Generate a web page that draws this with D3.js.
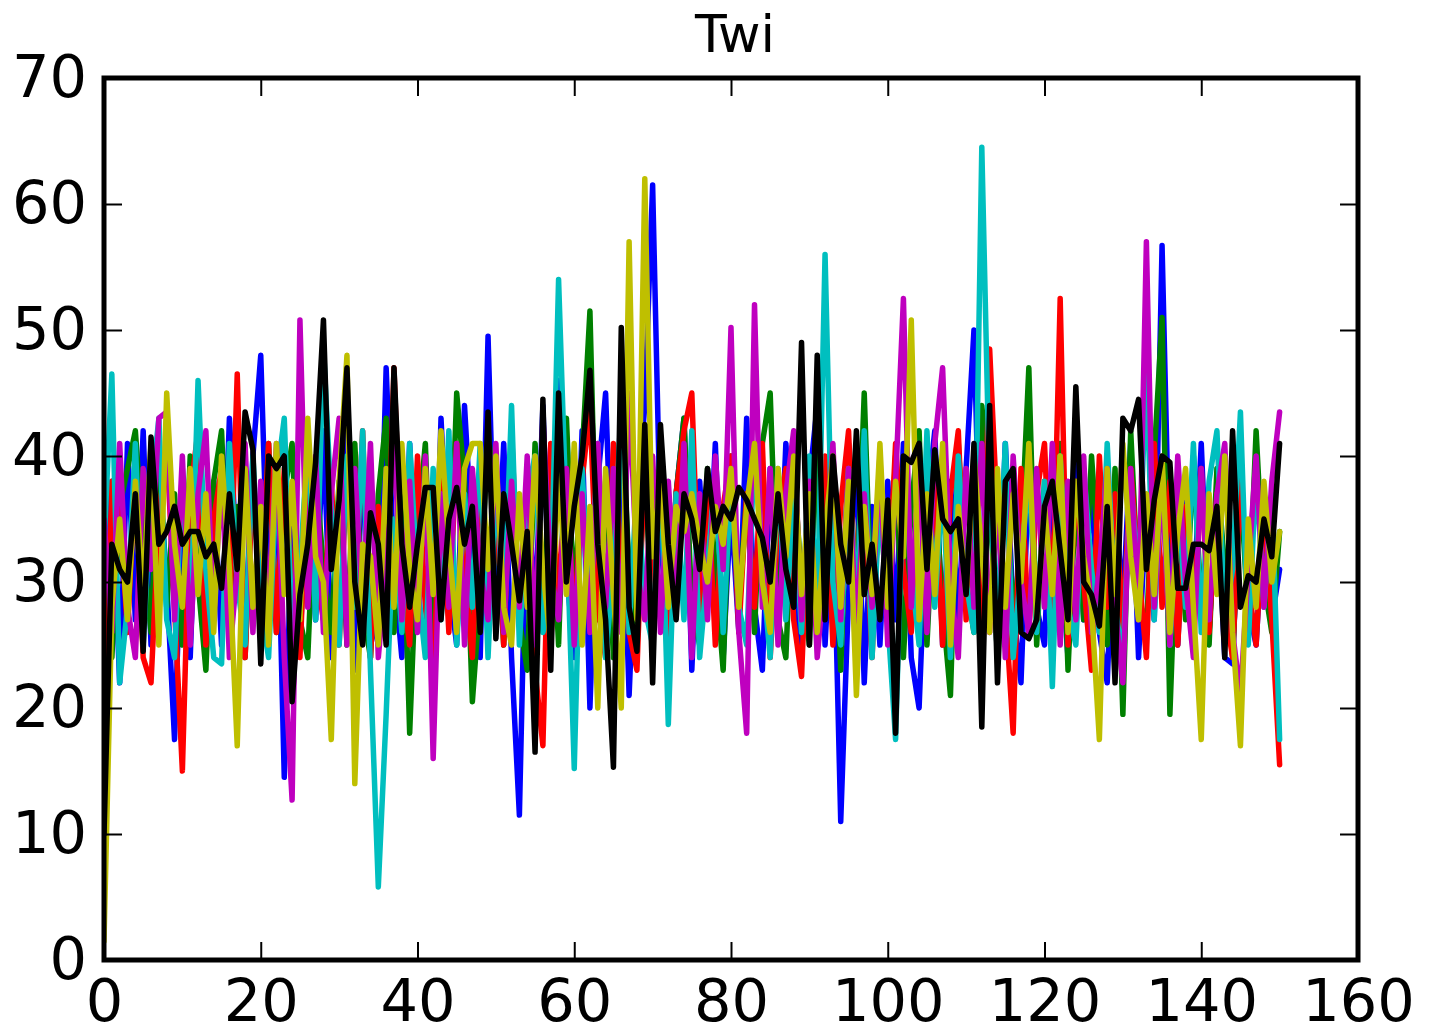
<!DOCTYPE html>
<html>
<head>
<meta charset="utf-8">
<script src="https://cdn.jsdelivr.net/npm/d3@7"></script>
<style>
  body { margin: 0; background: #fff; }
  svg text { font-family: "DejaVu Sans", sans-serif; fill: #000; }
</style>
</head>
<body>
<svg width="1429" height="1034"></svg>
<script>
const title = 'Twi';
const xTicks = [0, 20, 40, 60, 80, 100, 120, 140, 160];
const yTicks = [0, 10, 20, 30, 40, 50, 60, 70];

// one value per step, x = 0..150
const blue = [
  29, 38, 22, 41, 27, 42, 25, 39, 30, 17.5,
  36, 24, 41, 28, 38, 25, 43, 31, 26, 40,
  48, 28, 40, 14.5, 35, 25, 39, 27, 42, 24,
  37, 43, 23, 40, 28, 25, 47, 31, 24, 41,
  27, 39, 22, 43, 30, 25, 44, 33, 24, 49.5,
  28, 41, 24, 11.5, 39, 27, 44, 25, 46, 31,
  24, 42, 20, 38, 45, 27, 40, 21, 36, 44,
  61.5, 34, 25, 37, 43, 23, 38, 28, 41, 24,
  36, 26, 43, 28, 23, 39, 26, 41, 31, 24,
  38, 44, 25, 37, 11, 29, 40, 22, 36, 25,
  38, 27, 41, 24, 20, 36, 42, 25, 38, 27,
  39, 50, 26, 38, 24, 41, 28, 22, 39, 28,
  25, 40, 33, 24, 43, 27, 38, 26, 22, 37,
  28, 41, 24, 36, 27, 56.7, 30, 25, 38, 28,
  41, 26, 37, 24, 23.5, 39, 28, 25, 36, 27,
  31
];
const green = [
  30, 24, 36, 39, 42, 33, 26, 41, 28, 37,
  25, 40, 30, 23, 38, 42, 27, 36, 24, 39,
  28, 41, 26, 37, 41, 27, 24, 39, 31, 26,
  38, 25, 41, 28, 24, 37, 43, 26, 39, 18,
  34, 41, 24, 38, 27, 45, 38, 20.5, 29, 42,
  36, 25, 40, 27, 23, 41, 29, 38, 25, 43,
  28, 40, 51.5, 27, 38, 24, 44, 31, 26, 39,
  27, 41, 24, 37, 43, 28, 25, 39, 31, 23,
  40, 28, 37, 26, 41, 45, 27, 24, 39, 30,
  25, 42, 29, 38, 23, 41, 28, 45, 26, 37,
  27, 40, 24, 36, 42, 25, 38, 28, 21, 41,
  30, 26, 44, 37, 24, 39, 27, 33, 47, 25,
  38, 28, 41, 23, 37, 27, 40, 31, 25, 39,
  19.5, 42, 29, 26, 40, 51, 19.5, 37, 27, 40,
  28, 25, 39, 31, 24, 38, 27, 42, 30, 26,
  34
];
const red = [
  14, 38, 36, 26, 39, 24, 22, 35, 41, 28,
  15, 37, 42, 25, 35, 39, 27, 46.5, 24, 38,
  28, 41, 26, 39, 30, 24, 40, 31, 27, 38,
  25, 39, 28, 42, 24, 36, 27, 47, 30, 25,
  40, 28, 22, 38, 26, 41, 31, 24, 39, 28,
  37, 25, 42, 27, 38, 23, 17, 41, 28, 39,
  26, 38, 44, 28, 24, 41, 31, 26, 23, 40,
  28, 39, 25, 37, 42, 45, 27, 38, 25, 36,
  40, 26, 37, 28, 41, 24, 35, 39, 27, 22.5,
  38, 28, 40, 25, 36, 42, 27, 37, 24, 39,
  28, 41, 31, 26, 40, 27, 38, 25, 37, 42,
  27, 39, 24, 48.5, 35, 28, 18, 39, 26, 37,
  41, 27, 52.5, 25, 38, 30, 23, 40, 28, 37,
  26, 39, 31, 24, 41, 28, 38, 25, 36, 27,
  39, 26, 37, 28, 24, 38, 30, 25, 36, 27,
  15.5
];
const cyan = [
  33, 46.5, 22, 28, 41, 25, 37, 43, 27, 24,
  39, 26, 46, 31, 24, 23.5, 41, 30, 25, 40,
  28, 24, 38, 43, 26, 31, 41, 27, 48.7, 36,
  25, 40, 28, 42, 23, 5.8, 19.5, 35, 26, 41,
  30, 24, 39, 27, 42, 25, 37, 28, 41, 24,
  38, 27, 44, 25, 37, 40, 26, 29, 54, 35,
  15.2, 39, 27, 41, 24, 31, 44, 26, 38, 28,
  25, 40, 18.7, 37, 27, 42, 24, 31, 39, 26,
  38, 28, 25, 41, 31, 24, 39, 27, 37, 26,
  40, 27, 56, 30, 25, 39, 28, 42, 24, 37,
  27, 17.5, 39, 31, 25, 42, 28, 38, 24, 40,
  30, 26, 64.5, 37, 27, 41, 24, 31, 39, 26,
  38, 21.7, 40, 28, 25, 39, 31, 26, 41, 28,
  24, 38, 30, 47, 27, 39, 25, 37, 28, 41,
  26, 38, 42, 27, 31, 43.5, 25, 39, 28, 37,
  17.5
];
const magenta = [
  35, 26, 41, 28, 24, 39, 31, 43, 43.5, 27,
  40, 25, 37, 42, 27, 39, 24, 31, 41, 26,
  38, 28, 41, 24, 12.7, 50.8, 28, 40, 26, 37,
  43, 25, 39, 28, 41, 24, 31, 42, 27, 38,
  26, 40, 16, 37, 28, 41, 25, 39, 31, 27,
  41, 26, 38, 28, 40, 25, 43, 31, 27, 39,
  25, 37, 26, 41, 28, 39, 26, 45, 31, 27,
  40, 26, 38, 28, 41, 24, 37, 27, 40, 31,
  50.2, 26, 18, 52, 28, 39, 25, 37, 42, 27,
  38, 24, 31, 41, 27, 39, 26, 37, 28, 40,
  25, 38, 52.5, 28, 39, 26, 41, 47, 30, 24,
  39, 28, 41, 26, 37, 24, 40, 30, 26, 39,
  28, 41, 25, 38, 27, 40, 26, 31, 39, 28,
  22, 39, 27, 57, 28, 38, 25, 40, 30, 24,
  39, 27, 37, 41, 26, 21, 31, 40, 28, 38,
  43.5
];
const yellow = [
  1.5, 28, 35, 27, 38, 29, 41, 25, 45, 33,
  28, 39, 29, 37, 26, 40, 31, 17, 39, 28,
  36, 25, 41, 29, 38, 27, 43, 32, 30, 17.5,
  38, 48, 14, 33, 32, 25, 39, 28, 41, 31,
  27, 39, 29, 42, 33, 26, 39, 41, 41, 31,
  40, 28, 25, 37, 28, 40, 31, 25, 39, 29,
  41, 25, 36, 20, 39, 29, 20, 57, 27, 62,
  32, 38, 28, 36, 34, 37, 33, 30, 36, 33,
  39, 28, 36, 41, 30, 26, 39, 32, 40, 29,
  37, 26, 34, 40, 28, 38, 21, 36, 29, 41,
  28, 38, 32, 50.8, 27, 37, 29, 41, 25, 36,
  29, 40, 32, 26, 39, 28, 37, 30, 41, 27,
  36, 29, 40, 26, 38, 32, 28, 17.5, 39, 29,
  41, 32, 27, 37, 29, 40, 26, 34, 39, 28,
  17.5, 37, 29, 40, 26, 17, 35, 28, 38, 30,
  34
];
const black = [
  10, 33, 31, 30, 37, 24.5, 41.5, 33, 34, 36,
  33, 34, 34, 32, 33, 29.5, 37, 31, 43.5, 40.5,
  23.5, 40, 39, 40, 20.5, 29, 33, 39.5, 50.8, 31,
  36.5, 47, 30, 25, 35.5, 33, 25, 47, 33, 28,
  33, 37.5, 37.5, 27, 35, 37.5, 33, 36, 26, 43.5,
  25.5, 37, 33, 28.5, 34, 16.5, 44.5, 23, 45, 30,
  36, 40, 46.8, 33, 27, 15.3, 50.2, 28, 24.5, 42.5,
  22, 42.5, 33, 27, 37, 35, 31, 39, 34, 36,
  35, 37.5, 36.5, 35, 33.5, 30, 37, 31, 28, 49,
  25, 48, 27, 40, 33, 30, 42, 29, 33, 27,
  36.5, 18, 40, 39.5, 41, 31, 40.5, 35, 34, 35,
  29, 41, 18.5, 44, 22, 38, 39, 26, 25.5, 27,
  36, 38, 32.5, 27, 45.5, 30, 29, 26.5, 36, 22,
  43, 42, 44.5, 31, 36.5, 40, 39.5, 29.5, 29.5, 33,
  33, 32.5, 36, 24, 42, 28, 30.5, 30, 35, 32,
  41
];

const seriesList = [blue, green, red, cyan, magenta, yellow, black];
const colors = ['#0000ff', '#008000', '#ff0000', '#00bfbf', '#bf00bf', '#bfbf00', '#000000'];

const svg = d3.select('svg');
const margin = { top: 78, right: 71, bottom: 74, left: 104 };
const width = +svg.attr('width');
const height = +svg.attr('height');
const innerWidth = width - margin.left - margin.right;
const innerHeight = height - margin.top - margin.bottom;

const x = d3.scaleLinear().domain([0, 160]).range([0, innerWidth]);
const y = d3.scaleLinear().domain([0, 70]).range([innerHeight, 0]);

const g = svg.append('g').attr('transform', `translate(${margin.left},${margin.top})`);

g.append('clipPath').attr('id', 'clip')
  .append('rect').attr('width', innerWidth).attr('height', innerHeight);

const line = d3.line().x((d, i) => x(i)).y(d => y(d));

g.append('g').attr('clip-path', 'url(#clip)')
  .selectAll('path').data(seriesList)
  .enter().append('path')
  .attr('d', d => line(d))
  .attr('fill', 'none')
  .attr('stroke', (d, i) => colors[i])
  .attr('stroke-width', 5.5)
  .attr('stroke-linejoin', 'round')
  .attr('stroke-linecap', 'round');

// axes with inward ticks on all four sides
const styleAxis = sel => {
  sel.select('.domain').remove();
  sel.selectAll('.tick line').attr('stroke', '#000').attr('stroke-width', 2);
  sel.selectAll('.tick text').attr('font-size', 59).attr('font-family', 'DejaVu Sans, sans-serif');
};

g.append('g').attr('transform', `translate(0,${innerHeight})`)
  .call(d3.axisBottom(x).tickValues(xTicks).tickSizeInner(-18).tickSizeOuter(0).tickPadding(19))
  .call(styleAxis);
g.append('g')
  .call(d3.axisLeft(y).tickValues(yTicks).tickSizeInner(-18).tickSizeOuter(0).tickPadding(17))
  .call(styleAxis);
g.append('g')
  .call(d3.axisTop(x).tickValues(xTicks).tickSizeInner(-18).tickSizeOuter(0).tickFormat(''))
  .call(styleAxis);
g.append('g').attr('transform', `translate(${innerWidth},0)`)
  .call(d3.axisRight(y).tickValues(yTicks).tickSizeInner(-18).tickSizeOuter(0).tickFormat(''))
  .call(styleAxis);

g.append('rect')
  .attr('width', innerWidth).attr('height', innerHeight)
  .attr('fill', 'none').attr('stroke', '#000').attr('stroke-width', 5);

svg.append('text')
  .attr('x', margin.left + innerWidth / 2 + 4)
  .attr('y', 52)
  .attr('text-anchor', 'middle')
  .attr('font-size', 52)
  .text(title);
</script>
</body>
</html>
